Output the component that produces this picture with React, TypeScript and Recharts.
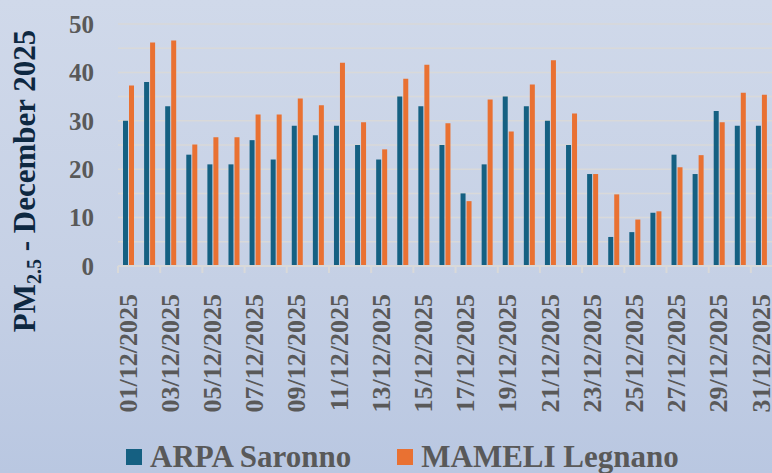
import { BarChart, Bar, XAxis, YAxis, CartesianGrid, Legend } from "recharts";

const days = [
  "01/12/2025", "02/12/2025", "03/12/2025", "04/12/2025", "05/12/2025", "06/12/2025",
  "07/12/2025", "08/12/2025", "09/12/2025", "10/12/2025", "11/12/2025", "12/12/2025",
  "13/12/2025", "14/12/2025", "15/12/2025", "16/12/2025", "17/12/2025", "18/12/2025",
  "19/12/2025", "20/12/2025", "21/12/2025", "22/12/2025", "23/12/2025", "24/12/2025",
  "25/12/2025", "26/12/2025", "27/12/2025", "28/12/2025", "29/12/2025", "30/12/2025",
  "31/12/2025",
];

const arpaSaronno = [
  30, 38, 33, 23, 21, 21, 26, 22, 29, 27, 29, 25, 22, 35, 33, 25,
  15, 21, 35, 33, 30, 25, 19, 6, 7, 11, 23, 19, 32, 29, 29,
];

const mameliLegnano = [
  37.3, 46.2, 46.6, 25.1, 26.6, 26.6, 31.3, 31.3, 34.6, 33.2, 42.0, 29.7, 24.1, 38.7, 41.6, 29.5,
  13.4, 34.4, 27.8, 37.5, 42.5, 31.5, 19, 14.8, 9.6, 11.3, 20.4, 22.9, 29.7, 35.8, 35.4,
];

const yTicks = [0, 5, 10, 15, 20, 25, 30, 35, 40, 45, 50];

const BLUE = "#156082";
const ORANGE = "#E97132";
const GRID = "#d9d9d9";
const TEXT = "#595959";
const FONT = '"Liberation Serif", "Times New Roman", serif';

const W = 772;
const H = 473;
const Y_AXIS_W = 118;
const BAND = (W - Y_AXIS_W) / days.length;

const data = days.map((day, i) => ({
  day,
  arpa: arpaSaronno[i],
  mameli: mameliLegnano[i],
}));

function DayTick(props: any) {
  const { x, y, payload } = props;
  return (
    <g>
      <line x1={x - BAND / 2} x2={x - BAND / 2} y1={y - 8} y2={y - 1} stroke={GRID} strokeWidth={2} />
      <text
        x={0}
        y={0}
        transform={`translate(${x - 1}, ${y + 20}) rotate(-90)`}
        textAnchor="end"
        dy="0.35em"
        fill={TEXT}
        fontFamily={FONT}
        fontWeight="bold"
        fontSize={26}
      >
        {payload.value}
      </text>
    </g>
  );
}

function YTitle() {
  return (
    <text
      x={35}
      y={181}
      transform="rotate(-90, 35, 181)"
      textAnchor="middle"
      fill="#0E2841"
      fontFamily={FONT}
      fontWeight="bold"
      fontSize={31}
    >
      PM
      <tspan fontSize={20} dy={6}>2.5</tspan>
      <tspan dy={-6}> - December 2025</tspan>
    </text>
  );
}

function LegendBox() {
  const items = [
    { name: "ARPA Saronno", color: BLUE },
    { name: "MAMELI Legnano", color: ORANGE },
  ];
  return (
    <div
      style={{
        height: 57,
        width: W,
        display: "flex",
        alignItems: "center",
        paddingLeft: 126,
        paddingTop: 24,
        boxSizing: "border-box",
        fontFamily: FONT,
        fontWeight: "bold",
        fontSize: 31,
        color: TEXT,
      }}
    >
      {items.map((it, i) => (
        <div key={it.name} style={{ display: "flex", alignItems: "center", marginRight: i === 0 ? 46 : 0 }}>
          <span style={{ width: 16, height: 16, background: it.color, display: "inline-block", marginRight: 8 }} />
          <span style={{ lineHeight: "30px" }}>{it.name}</span>
        </div>
      ))}
    </div>
  );
}

export default function App() {
  return (
    <div
      style={{
        position: "absolute",
        left: 0,
        top: 0,
        width: W,
        height: H,
        overflow: "hidden",
        background: "linear-gradient(180deg, #d0d9ea 0%, #c5d0e5 60%, #b9c7e1 100%)",
      }}
    >
      <BarChart
        width={W}
        height={H}
        data={data}
        margin={{ top: 24, right: 0, left: 0, bottom: 0 }}
        barSize={5}
        barGap={1}
      >
        <CartesianGrid vertical={false} stroke={GRID} strokeWidth={1.5} />
        <XAxis
          dataKey="day"
          interval={1}
          height={150}
          tickLine={false}
          axisLine={{ stroke: GRID, strokeWidth: 2 }}
          tick={<DayTick />}
        />
        <YAxis
          width={Y_AXIS_W}
          domain={[0, 50]}
          ticks={yTicks}
          interval={0}
          axisLine={false}
          tickLine={false}
          tickMargin={18}
          tickFormatter={(v: number) => (v % 10 === 0 ? String(v) : "")}
          tick={{ fill: TEXT, fontFamily: FONT, fontWeight: "bold", fontSize: 25 }}
          label={<YTitle />}
        />
        <Legend verticalAlign="bottom" content={<LegendBox />} wrapperStyle={{ left: 0, width: W }} />
        <Bar dataKey="arpa" name="ARPA Saronno" fill={BLUE} isAnimationActive={false} />
        <Bar dataKey="mameli" name="MAMELI Legnano" fill={ORANGE} isAnimationActive={false} />
      </BarChart>
    </div>
  );
}
